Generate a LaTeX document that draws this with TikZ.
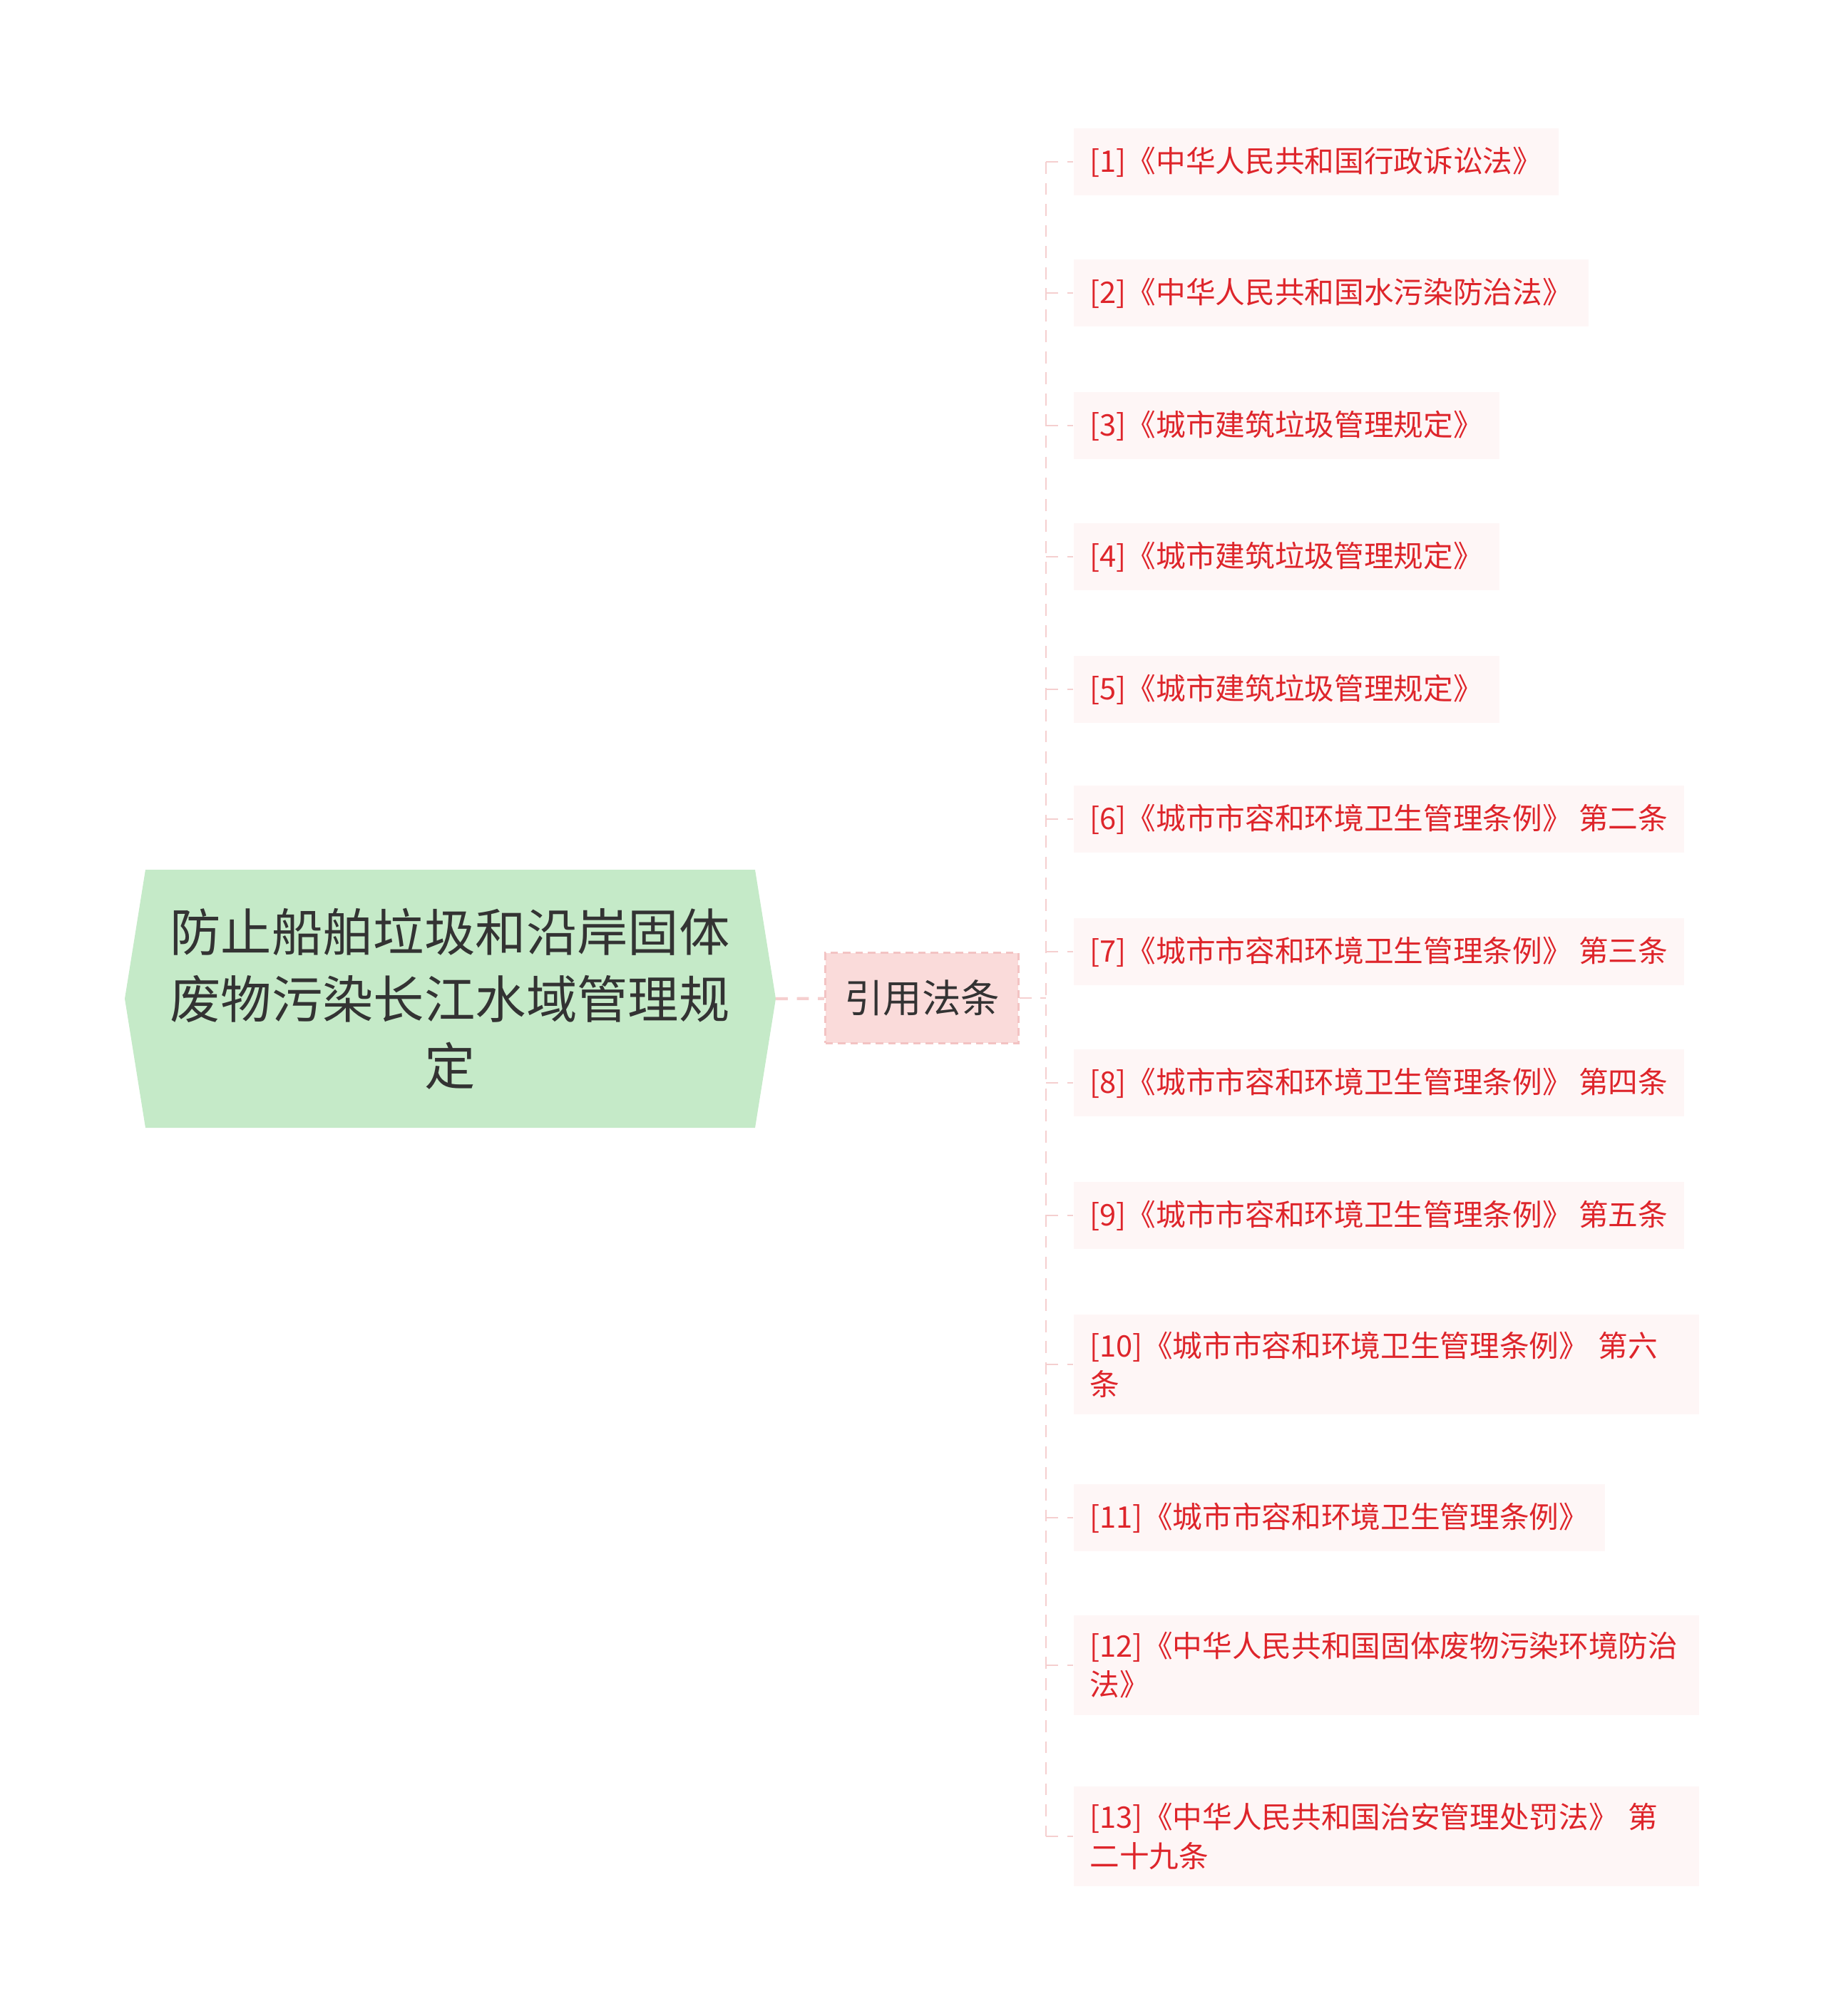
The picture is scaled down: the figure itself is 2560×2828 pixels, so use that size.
\documentclass[tikz,border=0pt]{standalone}
\usepackage{fontspec}
\setmainfont{Noto Sans CJK SC}
\usetikzlibrary{positioning,calc}
\definecolor{rootgreen}{HTML}{C5EAC8}
\definecolor{roottext}{HTML}{333333}
\definecolor{tagpink}{HTML}{FADBDA}
\definecolor{tagline}{HTML}{F3C3C3}
\definecolor{linkpink}{HTML}{F5CFCF}
\definecolor{leafbg}{HTML}{FEF6F6}
\definecolor{leafred}{HTML}{DE252B}
\tikzset{
	leaf/.style={anchor=west, fill=leafbg, text=leafred, align=left, inner xsep=6.5pt, inner ysep=6.6pt, minimum height=27pt, font=\fontsize{11.85}{15.4}\selectfont},
	leafwrap/.style={leaf, text width=236.5pt},
	link/.style={draw=linkpink, line width=0.8pt, dash pattern=on 4.8pt off 3.6pt},
}

\begin{document}
\begin{tikzpicture}[x=0.01cm, y=-0.01cm]
		\useasboundingbox (0,0) rectangle (2560,2828);
		\fill[rootgreen] (175,1401) -- (204,1220) -- (1059,1220) -- (1088,1401) -- (1059,1582) -- (204,1582) -- cycle;
		\coordinate (roottip) at (1088,1401);
		\node at (631,1401) [align=center, text=roottext, font=\fontsize{20.3}{26.7}\selectfont] (root) {防止船舶垃圾和沿岸固体\\废物污染长江水域管理规\\定};
		\node at (1293,1400) [fill=tagpink, draw=tagline, line width=0.8pt, dash pattern=on 3pt off 2pt, minimum width=77pt, minimum height=36pt, text=roottext, font=\fontsize{15.5}{18}\selectfont] (cite) {引用法条};
		\coordinate (spine) at (1467,1400);
		\node at (1505,227) [leaf] (l1) {[1]《中华人民共和国行政诉讼法》};
		\node at (1505,411) [leaf] (l2) {[2]《中华人民共和国水污染防治法》};
		\node at (1505,597) [leaf] (l3) {[3]《城市建筑垃圾管理规定》};
		\node at (1505,781) [leaf] (l4) {[4]《城市建筑垃圾管理规定》};
		\node at (1505,967) [leaf] (l5) {[5]《城市建筑垃圾管理规定》};
		\node at (1505,1149) [leaf] (l6) {[6]《城市市容和环境卫生管理条例》 第二条};
		\node at (1505,1335) [leaf] (l7) {[7]《城市市容和环境卫生管理条例》 第三条};
		\node at (1505,1519) [leaf] (l8) {[8]《城市市容和环境卫生管理条例》 第四条};
		\node at (1505,1705) [leaf] (l9) {[9]《城市市容和环境卫生管理条例》 第五条};
		\node at (1505,1914) [leafwrap] (l10) {[10]《城市市容和环境卫生管理条例》 第六\\条};
		\node at (1505,2129) [leaf] (l11) {[11]《城市市容和环境卫生管理条例》};
		\node at (1505,2336) [leafwrap] (l12) {[12]《中华人民共和国固体废物污染环境防治\\法》};
		\node at (1505,2576) [leafwrap] (l13) {[13]《中华人民共和国治安管理处罚法》 第\\二十九条};
		\draw[link, line width=1.2pt] (roottip) -- (cite);
		\draw[link] (cite) -- (spine);
		\draw[link] (spine |- l1.west) -- (spine |- l13.west);
		\foreach \i in {1,...,13}
			\draw[link] (spine |- l\i.west) -- (l\i.west);
\end{tikzpicture}
\end{document}
